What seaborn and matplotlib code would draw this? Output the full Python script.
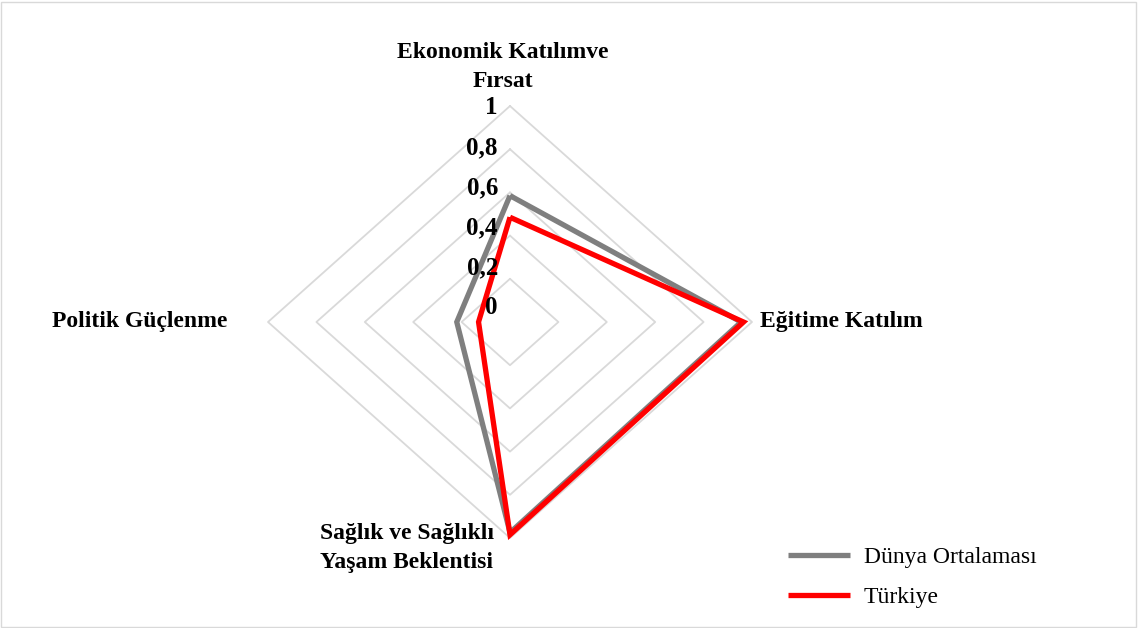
import numpy as np
import pandas as pd
import seaborn as sns
import matplotlib.pyplot as plt
from matplotlib.patches import Rectangle

# --- data ---
categories = ['Ekonomik Katılımve\nFırsat', 'Eğitime Katılım',
              'Sağlık ve Sağlıklı\nYaşam Beklentisi', 'Politik Güçlenme']
dunya = [0.585, 0.955, 0.975, 0.22]
turkiye = [0.485, 0.965, 0.985, 0.13]
tick_levels = [0, 0.2, 0.4, 0.6, 0.8, 1]
tick_labels = ['0', '0,2', '0,4', '0,6', '0,8', '1']
series_names = ['Dünya Ortalaması', 'Türkiye']
colors = ['#7f7f7f', '#ff0000']

sns.set_theme(style='white')
plt.rcParams['font.family'] = ['Liberation Serif', 'DejaVu Serif']
plt.rcParams['text.color'] = 'black'

# angles clockwise from the top
theta = np.arange(len(categories)) * 2 * np.pi / len(categories)


def to_xy(values):
    r = np.append(values, values[0])
    t = np.append(theta, theta[0])
    return pd.DataFrame({'x': r * np.sin(t), 'y': r * np.cos(t)})


fig = plt.figure(figsize=(11.38, 6.28), dpi=100)
ax = fig.add_axes([0, 0, 1, 1])
# center at pixel (510, 322), horizontal radius 242 px, vertical 216 px
ax.set_xlim(-510 / 242, (1138 - 510) / 242)
ax.set_ylim(-(628 - 322) / 216, 322 / 216)
ax.axis('off')

# polygon grid
for lvl in tick_levels[1:]:
    g = to_xy([lvl] * len(categories))
    ax.plot(g['x'], g['y'], color='#d9d9d9', lw=1.3, zorder=1)

# series
for name, vals, col in zip(series_names, [dunya, turkiye], colors):
    df = to_xy(vals)
    sns.lineplot(data=df, x='x', y='y', sort=False, estimator=None,
                 color=col, lw=3.8, label=name, ax=ax, zorder=3,
                 solid_capstyle='butt', solid_joinstyle='miter')

# radial tick labels
for lvl, lab in zip(tick_levels, tick_labels):
    ax.text(-12 / 242, (14 + 200 * lvl) / 216, lab, ha='right', va='center',
            fontsize=18, fontweight='bold', zorder=4)

# category labels
ax.text(-7 / 242, (322 - 67) / 216, categories[0], ha='center', va='center',
        fontsize=17, fontweight='bold', linespacing=1.45)
ax.text(250 / 242, 0, categories[1], ha='left', va='center',
        fontsize=17, fontweight='bold')
ax.text(-103 / 242, -(548 - 322) / 216, categories[2], ha='center', va='center',
        fontsize=17, fontweight='bold', linespacing=1.5)
ax.text(-283 / 242, 0, categories[3], ha='right', va='center',
        fontsize=17, fontweight='bold')

ax.legend(loc='upper left', bbox_to_anchor=(767 / 1138, 1 - 525 / 628),
          frameon=False, fontsize=17, handlelength=2.6, handletextpad=0.6,
          labelspacing=0.8)

fig.add_artist(Rectangle((0.001, 0.002), 0.997, 0.995, transform=fig.transFigure,
                         fill=False, edgecolor='#d9d9d9', lw=1))

fig.savefig('out.png', dpi=100)
